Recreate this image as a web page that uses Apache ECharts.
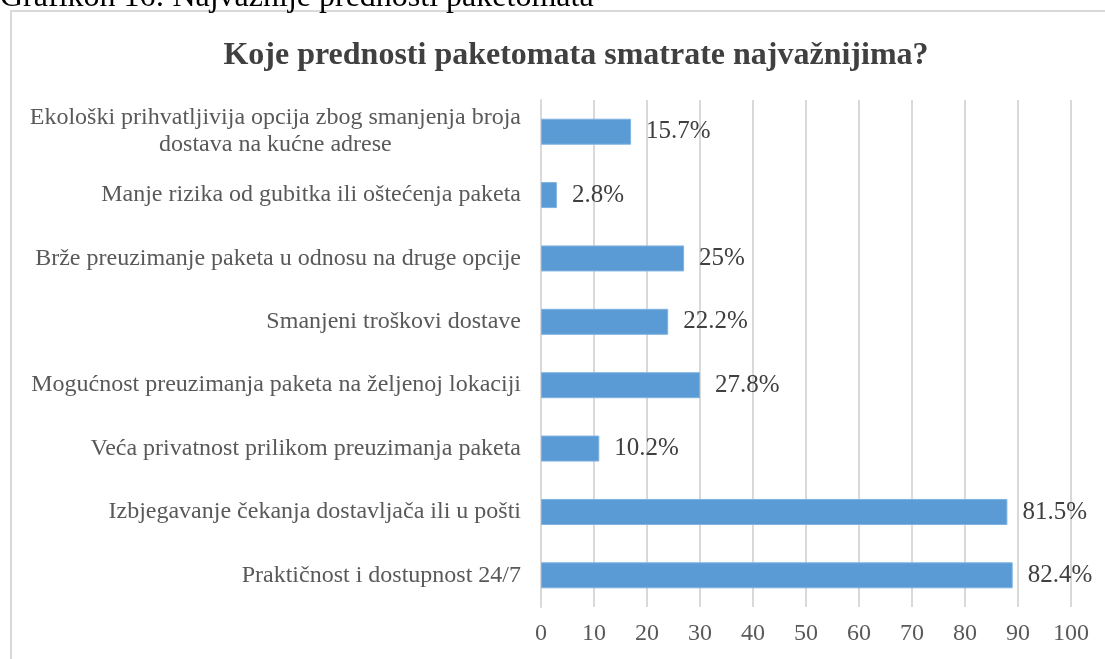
<!DOCTYPE html>
<html>
<head>
<meta charset="utf-8">
<script src="https://cdn.jsdelivr.net/npm/echarts@6/dist/echarts.min.js"></script>
<style>
  html, body { margin: 0; padding: 0; background: #fff; }
  #chart { width: 1105px; height: 659px; }
</style>
</head>
<body>
<div id="chart"></div>
<script>
// kategorije odozdo prema gore (kao u izvorniku)
var categories = [
  "Praktičnost i dostupnost 24/7",
  "Izbjegavanje čekanja dostavljača ili u pošti",
  "Veća privatnost prilikom preuzimanja paketa",
  "Mogućnost preuzimanja paketa na željenoj lokaciji",
  "Smanjeni troškovi dostave",
  "Brže preuzimanje paketa u odnosu na druge opcije",
  "Manje rizika od gubitka ili oštećenja paketa",
  "Ekološki prihvatljivija opcija zbog smanjenja broja\ndostava na kućne adrese"
];
// broj odgovora (duljina trake)
var counts = [89, 88, 11, 30, 24, 27, 3, 17];
// oznake u postocima
var percentLabels = ["82.4%", "81.5%", "10.2%", "27.8%", "22.2%", "25%", "2.8%", "15.7%"];
var xTicks = [0, 10, 20, 30, 40, 50, 60, 70, 80, 90, 100];

var serif = "'Liberation Serif', 'Times New Roman', serif";
var chart = echarts.init(document.getElementById("chart"));

chart.setOption({
  animation: false,
  backgroundColor: "#fff",
  graphic: [
    {
      type: "rect",
      shape: { x: 11, y: 11, width: 1200, height: 700 },
      style: { fill: "none", stroke: "#d9d9d9", lineWidth: 2 }
    },
    {
      type: "text",
      left: 0,
      top: -18,
      style: {
        text: "Grafikon 16: Najvažnije prednosti paketomata",
        font: "32px " + serif,
        fill: "#000"
      }
    }
  ],
  title: {
    text: "Koje prednosti paketomata smatrate najvažnijima?",
    left: 571,
    textAlign: "center",
    top: 35,
    textStyle: {
      fontFamily: serif,
      fontSize: 32,
      fontWeight: "bold",
      color: "#404040"
    }
  },
  grid: { left: 541, right: 34, top: 100, bottom: 52, containLabel: false },
  xAxis: {
    type: "value",
    min: xTicks[0],
    max: xTicks[xTicks.length - 1],
    interval: 10,
    axisLine: { show: false },
    axisTick: { show: false },
    splitLine: { lineStyle: { color: "#d9d9d9", width: 2 } },
    axisLabel: {
      fontFamily: serif,
      fontSize: 24,
      color: "#595959",
      margin: 15
    }
  },
  yAxis: {
    type: "category",
    data: categories,
    axisTick: { show: false },
    axisLine: { show: true, lineStyle: { color: "#d9d9d9", width: 2 } },
    axisLabel: {
      margin: 20,
      formatter: function (v) {
        return v.split("\n").map(function (s) { return "{a|" + s + "}"; }).join("\n");
      },
      rich: {
        a: {
          fontFamily: serif,
          fontSize: 24,
          color: "#595959",
          align: "center",
          lineHeight: 27
        }
      }
    }
  },
  series: [
    {
      type: "bar",
      data: counts,
      barWidth: 26,
      itemStyle: { color: "#5b9bd5", borderColor: "#7fb2e0", borderWidth: 1 },
      label: {
        show: true,
        position: "right",
        distance: 15,
        formatter: function (p) { return percentLabels[p.dataIndex]; },
        fontFamily: serif,
        fontSize: 25,
        color: "#404040"
      }
    }
  ]
});
</script>
</body>
</html>
